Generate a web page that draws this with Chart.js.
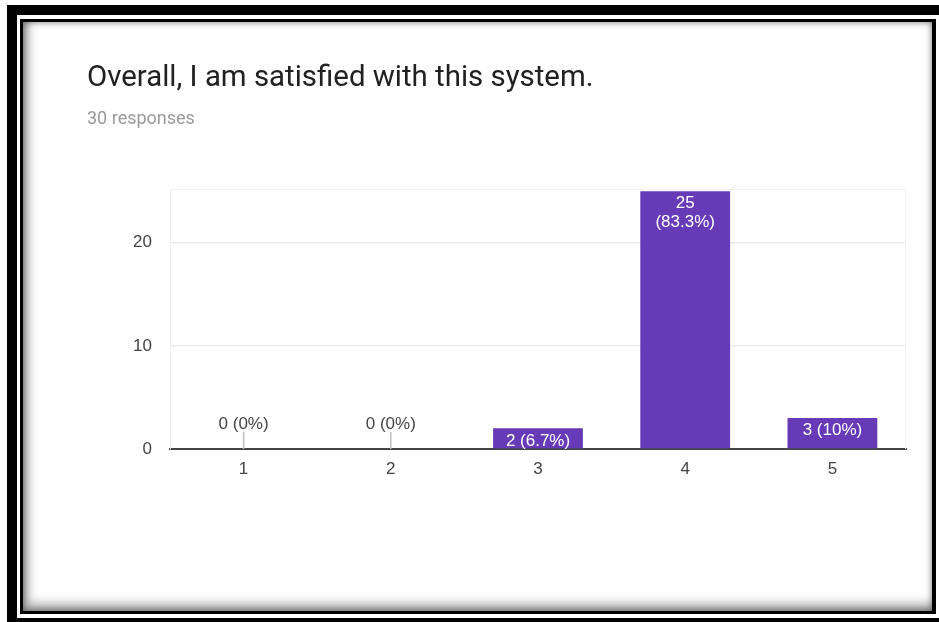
<!DOCTYPE html>
<html>
<head>
<meta charset="utf-8">
<title>Overall, I am satisfied with this system.</title>
<script src="https://cdn.jsdelivr.net/npm/chart.js@4.4.1/dist/chart.umd.min.js"></script>
<style>
  html, body { margin: 0; padding: 0; width: 939px; height: 622px; overflow: hidden; background: #fff; }
  .frame-outer { position: absolute; left: 7px; top: 5px; width: 1000px; height: 700px; background: #000; }
  .frame-gap { position: absolute; left: 17px; top: 15px; width: 922px; height: 603px; background: #fff; }
  .frame-line { position: absolute; left: 20px; top: 19px; width: 916px; height: 595px; background: #000; }
  .panel {
    position: absolute; left: 23px; top: 22px; width: 909px; height: 589px; background: #fff;
    box-shadow: inset 0 0 7px rgba(0,0,0,0.55), inset 6px -8px 10px rgba(0,0,0,0.3);
  }
  #wrap { position: absolute; left: 0; top: 0; width: 939px; height: 622px; }
</style>
</head>
<body>
<div class="frame-outer"></div>
<div class="frame-gap"></div>
<div class="frame-line"></div>
<div class="panel"></div>
<div id="wrap"><canvas id="chart" width="939" height="622"></canvas></div>
<script>
// Survey answers on a 1–5 scale and how many people picked each one
const categories = ['1', '2', '3', '4', '5'];
const responses = [0, 0, 2, 25, 3];
const yTickValues = [0, 10, 20];
const titleText = 'Overall, I am satisfied with this system.';
const subtitleText = '30 responses';

const totalResponses = responses.reduce((a, b) => a + b, 0);
const BAR_COLOR = '#673ab7';
const LABEL_FONT = '17px Arial, "Liberation Sans", sans-serif';

function pctText(v) {
  return Number((v / totalResponses * 100).toFixed(1)) + '%';
}

// Light frame around the plotting area (top and right edges)
const plotFrame = {
  id: 'plotFrame',
  beforeDatasetsDraw(chart) {
    const { ctx, chartArea: a } = chart;
    ctx.save();
    ctx.strokeStyle = '#efefef';
    ctx.lineWidth = 1;
    ctx.beginPath();
    ctx.moveTo(a.left, a.top + 0.5);
    ctx.lineTo(a.right - 0.5, a.top + 0.5);
    ctx.lineTo(a.right - 0.5, a.bottom);
    ctx.stroke();
    ctx.restore();
  }
};

// Count and share of responses for every bar
const barLabels = {
  id: 'barLabels',
  afterDatasetsDraw(chart) {
    const { ctx } = chart;
    const meta = chart.getDatasetMeta(0);
    ctx.save();
    ctx.font = LABEL_FONT;
    ctx.textAlign = 'center';
    ctx.textBaseline = 'middle';
    meta.data.forEach((bar, i) => {
      const v = responses[i];
      const pct = pctText(v);
      if (v === 0) {
        ctx.strokeStyle = '#bdbdbd';
        ctx.lineWidth = 1.5;
        ctx.beginPath();
        ctx.moveTo(bar.x, bar.base);
        ctx.lineTo(bar.x, bar.base - 17);
        ctx.stroke();
        ctx.fillStyle = '#444';
        ctx.fillText(v + ' (' + pct + ')', bar.x, bar.base - 25);
      } else if (bar.base - bar.y > 60) {
        ctx.fillStyle = '#fff';
        ctx.fillText(String(v), bar.x, bar.y + 12);
        ctx.fillText('(' + pct + ')', bar.x, bar.y + 31);
      } else {
        ctx.fillStyle = '#fff';
        ctx.fillText(v + ' (' + pct + ')', bar.x, bar.y + 12.5);
      }
    });
    ctx.restore();
  }
};

new Chart(document.getElementById('chart'), {
  type: 'bar',
  data: {
    labels: categories,
    datasets: [{
      data: responses,
      backgroundColor: BAR_COLOR,
      borderWidth: 0,
      barPercentage: 0.61,
      categoryPercentage: 1.0
    }]
  },
  options: {
    responsive: false,
    animation: false,
    layout: { padding: { left: 87, right: 33, top: 61, bottom: 133 } },
    plugins: {
      legend: { display: false },
      tooltip: { enabled: false },
      title: {
        display: true,
        text: titleText,
        align: 'start',
        color: '#212121',
        font: { family: 'Roboto', size: 29.4, weight: 'normal', lineHeight: 1.2 },
        padding: { top: 0, bottom: 12 }
      },
      subtitle: {
        display: true,
        text: subtitleText,
        align: 'start',
        color: '#9a9a9a',
        font: { family: 'Roboto', size: 18, weight: 'normal', lineHeight: 1.2 },
        padding: { top: 0, bottom: 59.2 }
      }
    },
    scales: {
      x: {
        z: 1,
        grid: { display: false, drawTicks: false },
        border: { display: true, color: '#444', width: 2 },
        ticks: { color: '#444', font: { family: 'Arial, "Liberation Sans", sans-serif', size: 17 }, padding: 10 },
        afterFit(s) { s.height = 40; }
      },
      y: {
        min: 0,
        max: 25.2,
        afterBuildTicks(s) { s.ticks = yTickValues.map(v => ({ value: v })); },
        grid: { color: '#ebebeb', lineWidth: 1.5, drawTicks: false },
        border: { display: true, color: '#efefef', width: 1 },
        ticks: { color: '#444', font: { family: 'Arial, "Liberation Sans", sans-serif', size: 17 }, padding: 18 },
        afterFit(s) { s.width = 83; }
      }
    }
  },
  plugins: [plotFrame, barLabels]
});
</script>
</body>
</html>
